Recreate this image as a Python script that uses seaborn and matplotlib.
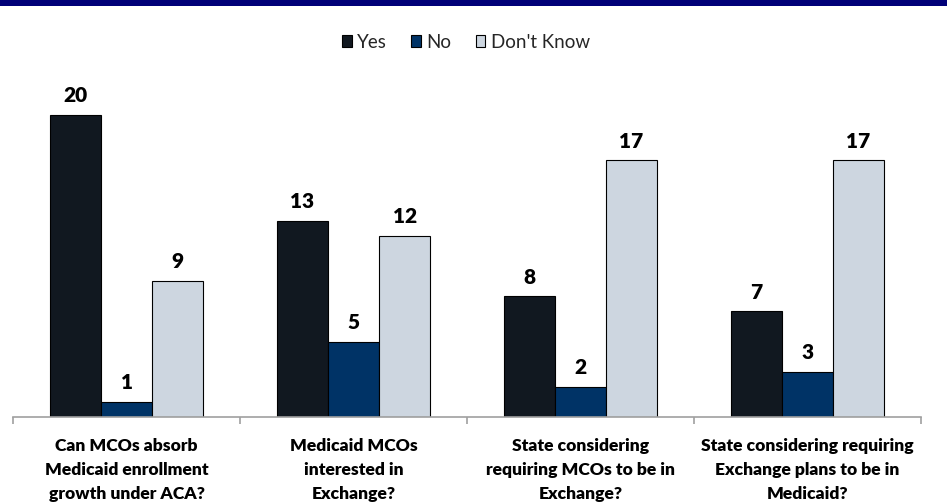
import matplotlib
matplotlib.use("Agg")
import matplotlib.pyplot as plt
import matplotlib.patches as mpatches
import seaborn as sns
import pandas as pd

categories = [
    "Can MCOs absorb\nMedicaid enrollment\ngrowth under ACA?",
    "Medicaid MCOs\ninterested in\nExchange?",
    "State considering\nrequiring MCOs to be in\nExchange?",
    "State considering requiring\nExchange plans to be in\nMedicaid?",
]
series = ["Yes", "No", "Don't Know"]
yes_vals = [20, 13, 8, 7]
no_vals = [1, 5, 2, 3]
dk_vals = [9, 12, 17, 17]
colors = ["#111820", "#003366", "#CDD6E0"]

rows = []
for s, vals in zip(series, [yes_vals, no_vals, dk_vals]):
    for c, v in zip(categories, vals):
        rows.append({"cat": c, "series": s, "val": v})
df = pd.DataFrame(rows)

sns.set_theme(style="white")
plt.rcParams["font.family"] = ["Lato", "DejaVu Sans"]

W, H = 947, 503
fig = plt.figure(figsize=(W / 100, H / 100), dpi=100)
ax = fig.add_axes([13 / W, 86 / H, 908 / W, 332 / H])

sns.barplot(data=df, x="cat", y="val", hue="series", order=categories,
            hue_order=series, palette=colors, width=0.675, ax=ax,
            edgecolor="black", linewidth=0.8, legend=False, saturation=1)

for cont in ax.containers:
    ax.bar_label(cont, padding=7, fontsize=15, fontweight="heavy", color="black")

ax.set_ylim(0, 22)
ax.set_xlim(-0.5, 3.5)
ax.set_xlabel("")
ax.set_ylabel("")
ax.set_yticks([])
for sp in ["left", "right", "top"]:
    ax.spines[sp].set_visible(False)
ax.spines["bottom"].set_color("#A0A0A0")
ax.spines["bottom"].set_linewidth(1.2)
ax.set_xticks(range(len(categories)))
ax.set_xticklabels(categories, fontsize=12.6, fontweight="heavy", color="black",
                   linespacing=1.62, va="top")
ax.tick_params(axis="x", which="major", length=0, pad=15)
ax.set_xticks([-0.5, 0.5, 1.5, 2.5, 3.5], minor=True)
ax.tick_params(axis="x", which="minor", length=5, width=1.2, color="#A0A0A0", bottom=True)

# top band
fig.patches.append(mpatches.Rectangle((0, 1 - 6 / H), 1, 6 / H, transform=fig.transFigure,
                                      facecolor="#000078", edgecolor="none"))

handles = [mpatches.Patch(facecolor=c, edgecolor="black", linewidth=0.8) for c in colors]
fig.legend(handles, series, loc="center", bbox_to_anchor=(466 / W, 1 - 42 / H), ncol=3,
           frameon=False, fontsize=13.5, handlelength=0.5, handleheight=0.55,
           handletextpad=0.3, columnspacing=1.3)

fig.savefig("out.png", dpi=100)
